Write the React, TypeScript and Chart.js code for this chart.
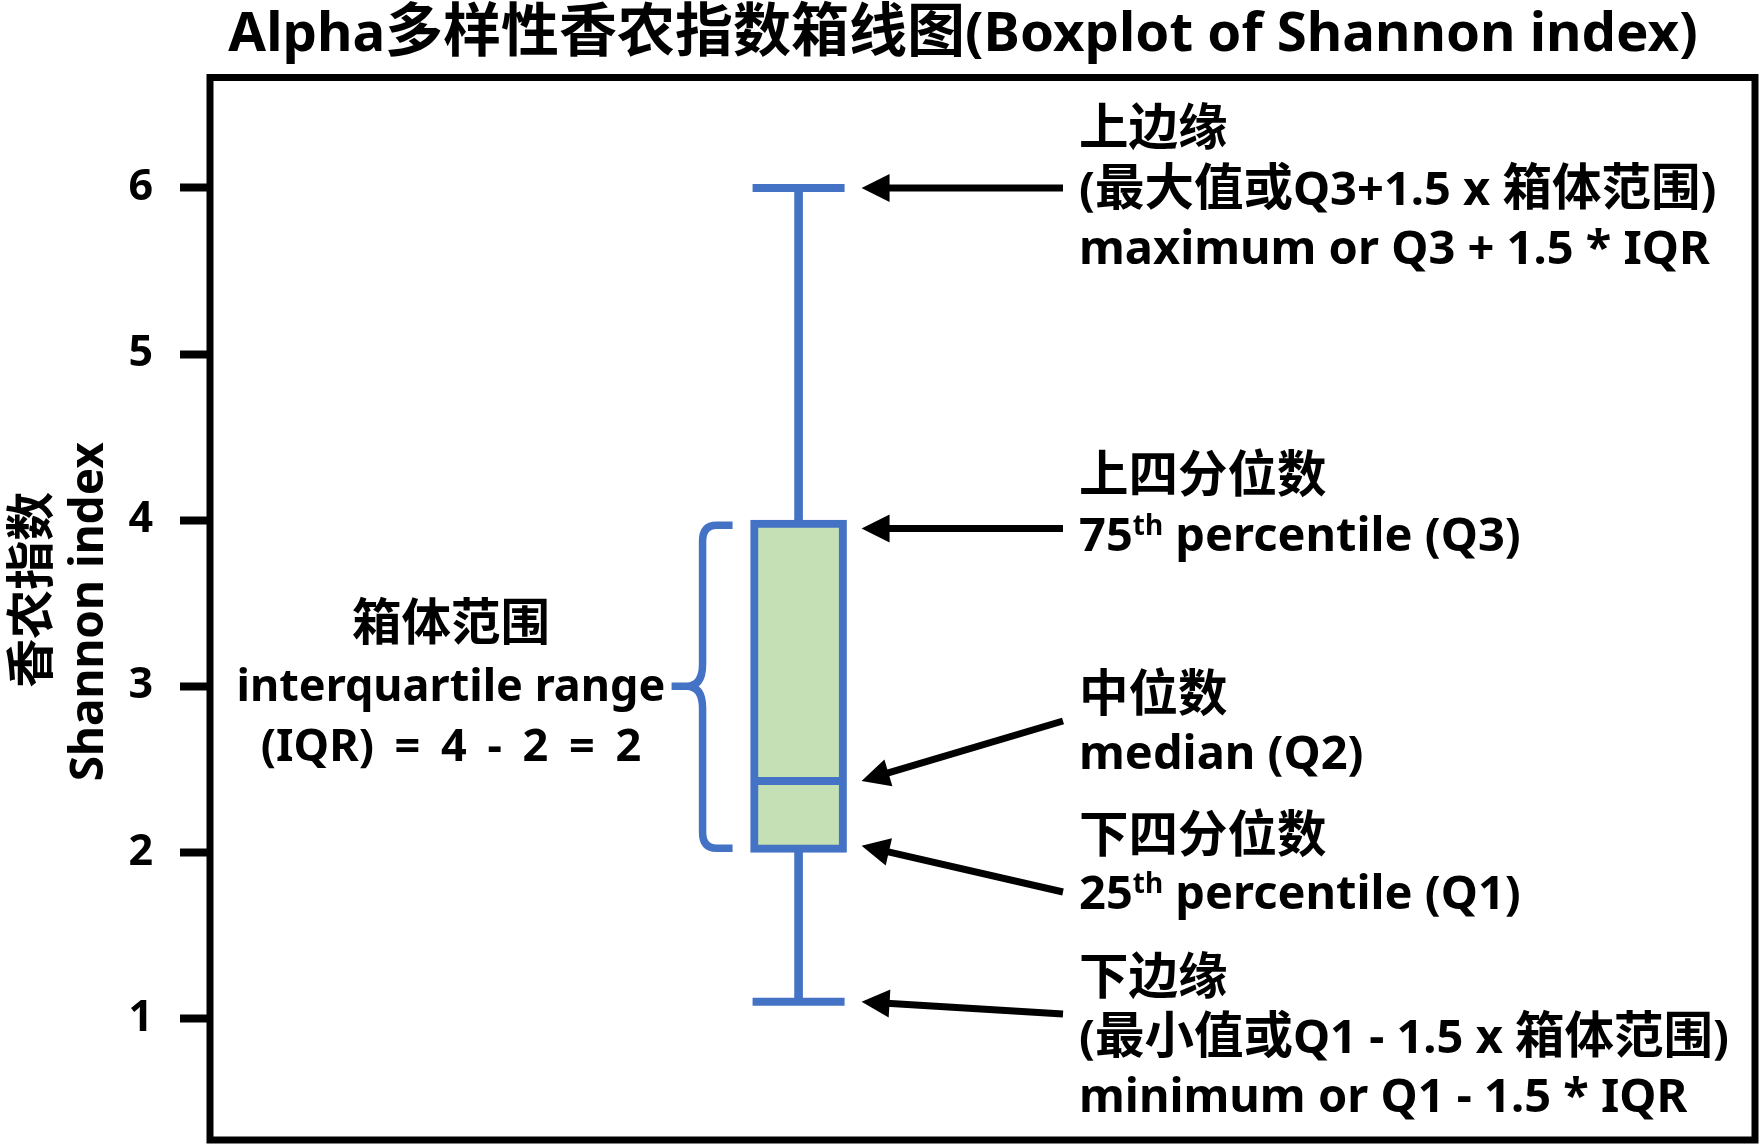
import React, { useEffect, useRef } from 'react';
import { Chart, registerables } from 'chart.js';

Chart.register(...registerables);

// ---------- content / data ----------
const CHART_TITLE = 'Alpha多样性香农指数箱线图(Boxplot of Shannon index)';
const Y_TITLE_CN = '香农指数';
const Y_TITLE_EN = 'Shannon index';

const SAMPLES = ['Shannon index'];
const LOWER_WHISKER = [1.1];
const Q1 = [2];
const MEDIAN = [2.43];
const Q3 = [4];
const UPPER_WHISKER = [6];

const Y_TICKS = [1, 2, 3, 4, 5, 6];
const Y_TICK_LABELS = ['1', '2', '3', '4', '5', '6'];
const Y_MIN = 0.268;
const Y_MAX = 6.665;

const NOTE_UPPER = ['上边缘', '(最大值或Q3+1.5 x 箱体范围)', 'maximum or Q3 + 1.5 * IQR'];
const NOTE_Q3 = ['上四分位数', '75^th percentile (Q3)'];
const NOTE_MEDIAN = ['中位数', 'median (Q2)'];
const NOTE_Q1 = ['下四分位数', '25^th percentile (Q1)'];
const NOTE_LOWER = ['下边缘', '(最小值或Q1 - 1.5 x 箱体范围)', 'minimum or Q1 - 1.5 * IQR'];
const NOTE_IQR = ['箱体范围', 'interquartile range', '(IQR) = 4 - 2 = 2'];

// ---------- styles ----------
const BLUE = '#4472C4';
const GREEN = '#C5E0B4';
const FAMILY = '"Noto Sans", "Noto Sans CJK SC", sans-serif';
const CJK_FAMILY = '"Noto Sans CJK SC", "Noto Sans", sans-serif';
const CJK_RE = /[\u3400-\u9fff]/;

type Run = { text: string; font: string; dy: number };

// split a line into latin / CJK runs (CJK drawn slightly larger), "^xx" = superscript
function buildRuns(text: string, size: number, cjkSize: number): Run[] {
  const runs: Run[] = [];
  const parts = text.split(/(\^\w+)/);
  parts.forEach((part) => {
    if (!part) return;
    if (part.startsWith('^')) {
      runs.push({ text: part.slice(1), font: `bold ${Math.round(size * 0.6)}px ${FAMILY}`, dy: -size * 0.33 });
      return;
    }
    let cur = '';
    let curCjk: boolean | null = null;
    for (const ch of part) {
      const isCjk = CJK_RE.test(ch);
      if (curCjk === null || isCjk === curCjk) {
        cur += ch;
      } else {
        runs.push({ text: cur, font: curCjk ? `bold ${cjkSize}px ${CJK_FAMILY}` : `bold ${size}px ${FAMILY}`, dy: 0 });
        cur = ch;
      }
      curCjk = isCjk;
    }
    if (cur) runs.push({ text: cur, font: curCjk ? `bold ${cjkSize}px ${CJK_FAMILY}` : `bold ${size}px ${FAMILY}`, dy: 0 });
  });
  return runs;
}

function drawMixed(
  ctx: CanvasRenderingContext2D,
  text: string,
  x: number,
  y: number,
  size: number,
  cjkSize: number,
  align: 'left' | 'center' = 'left',
) {
  const runs = buildRuns(text, size, cjkSize);
  ctx.textAlign = 'left';
  ctx.textBaseline = 'alphabetic';
  const widths = runs.map((r) => {
    ctx.font = r.font;
    return ctx.measureText(r.text).width;
  });
  const total = widths.reduce((a, b) => a + b, 0);
  let cx = align === 'center' ? x - total / 2 : x;
  runs.forEach((r, i) => {
    ctx.font = r.font;
    ctx.fillText(r.text, cx, y + r.dy);
    cx += widths[i];
  });
}

function drawArrow(ctx: CanvasRenderingContext2D, x0: number, y0: number, x1: number, y1: number) {
  const dx = x1 - x0;
  const dy = y1 - y0;
  const len = Math.hypot(dx, dy);
  const ux = dx / len;
  const uy = dy / len;
  const head = 28;
  const half = 14;
  ctx.strokeStyle = '#000';
  ctx.fillStyle = '#000';
  ctx.lineWidth = 7;
  ctx.lineCap = 'butt';
  ctx.beginPath();
  ctx.moveTo(x0, y0);
  ctx.lineTo(x1 - ux * head * 0.9, y1 - uy * head * 0.9);
  ctx.stroke();
  const bx = x1 - ux * head;
  const by = y1 - uy * head;
  ctx.beginPath();
  ctx.moveTo(x1, y1);
  ctx.lineTo(bx - uy * half, by + ux * half);
  ctx.lineTo(bx + uy * half, by - ux * half);
  ctx.closePath();
  ctx.fill();
}

const annotationPlugin = {
  id: 'boxplotAnnotations',
  afterDraw(chart: any) {
    const ctx: CanvasRenderingContext2D = chart.ctx;
    const { left, right, top, bottom } = chart.chartArea;
    const y = chart.scales.y;
    const x = chart.scales.x;
    ctx.save();

    // frame
    ctx.strokeStyle = '#000';
    ctx.lineWidth = 7;
    ctx.strokeRect(left, top, right - left, bottom - top);

    // title
    ctx.fillStyle = '#000';
    drawMixed(ctx, CHART_TITLE, 963, 51, 54.6, 58, 'center');

    // y-axis titles (rotated)
    const midY = (top + bottom) / 2;
    ctx.save();
    ctx.translate(48, midY - 19);
    ctx.rotate(-Math.PI / 2);
    ctx.font = `bold 49px ${CJK_FAMILY}`;
    ctx.textAlign = 'center';
    ctx.fillText(Y_TITLE_CN, 0, 0);
    ctx.restore();
    ctx.save();
    ctx.translate(103, midY + 3);
    ctx.rotate(-Math.PI / 2);
    ctx.font = `bold 46px ${FAMILY}`;
    ctx.textAlign = 'center';
    ctx.fillText(Y_TITLE_EN, 0, 0);
    ctx.restore();

    // brace beside the box (spans Q1..Q3)
    const yTop = y.getPixelForValue(Q3[0]) + 5;
    const yBot = y.getPixelForValue(Q1[0]) - 4;
    const yMid = (y.getPixelForValue(Q3[0]) + y.getPixelForValue(Q1[0])) / 2;
    const boxX = x.getPixelForValue(0);
    const spine = boxX - 96;
    const endX = boxX - 66;
    const tipX = boxX - 127;
    ctx.strokeStyle = BLUE;
    ctx.lineWidth = 7.5;
    ctx.lineJoin = 'round';
    ctx.beginPath();
    ctx.moveTo(endX, yTop);
    ctx.lineTo(spine + 14, yTop);
    ctx.quadraticCurveTo(spine, yTop, spine, yTop + 16);
    ctx.lineTo(spine, yMid - 22);
    ctx.quadraticCurveTo(spine, yMid, spine - 16, yMid);
    ctx.lineTo(tipX, yMid);
    ctx.moveTo(spine - 16, yMid);
    ctx.quadraticCurveTo(spine, yMid, spine, yMid + 22);
    ctx.lineTo(spine, yBot - 16);
    ctx.quadraticCurveTo(spine, yBot, spine + 14, yBot);
    ctx.lineTo(endX, yBot);
    ctx.stroke();

    // arrows: from note text to the statistic
    const tipAt = boxX + 63;
    const startX = 1063;
    const arrows: [number, number][] = [
      [y.getPixelForValue(UPPER_WHISKER[0]), y.getPixelForValue(UPPER_WHISKER[0])],
      [y.getPixelForValue(Q3[0] - 0.05), y.getPixelForValue(Q3[0] - 0.05)],
      [721, y.getPixelForValue(MEDIAN[0])],
      [892, y.getPixelForValue(Q1[0] + 0.04)],
      [1014, y.getPixelForValue(LOWER_WHISKER[0])],
    ];
    arrows.forEach(([sy, ty]) => drawArrow(ctx, startX, sy, tipAt, ty));

    // notes on the right
    ctx.fillStyle = '#000';
    const tx = 1079;
    const groups: [string[], number[]][] = [
      [NOTE_UPPER, [145, 205, 264]],
      [NOTE_Q3, [492, 551]],
      [NOTE_MEDIAN, [711, 769]],
      [NOTE_Q1, [852, 909]],
      [NOTE_LOWER, [994, 1053, 1112]],
    ];
    groups.forEach(([lines, ys]) => {
      lines.forEach((ln, i) => drawMixed(ctx, ln, tx, ys[i], 47, 49.5, 'left'));
    });

    // IQR note on the left
    const iqrY = [640, 701, 761];
    NOTE_IQR.forEach((ln, i) => {
      (ctx as any).wordSpacing = i === 2 ? '9px' : '0px';
      drawMixed(ctx, ln, 451, iqrY[i], 45, 49.5, 'center');
    });
    (ctx as any).wordSpacing = '0px';

    ctx.restore();
  },
};

export default function App() {
  const ref = useRef<HTMLCanvasElement>(null);

  useEffect(() => {
    const canvas = ref.current;
    if (!canvas) return;
    const chart = new Chart(canvas, {
      type: 'bar',
      data: {
        labels: SAMPLES,
        datasets: [
          {
            type: 'scatter',
            label: 'whisker caps',
            data: SAMPLES.flatMap((_, i) => [
              { x: i, y: LOWER_WHISKER[i] },
              { x: i, y: UPPER_WHISKER[i] },
            ]),
            pointStyle: 'line',
            pointRadius: 46,
            pointHoverRadius: 46,
            borderWidth: 8,
            borderColor: BLUE,
            order: 0,
          } as any,
          {
            type: 'scatter',
            label: 'median',
            data: MEDIAN.map((v, i) => ({ x: i, y: v })),
            pointStyle: 'line',
            pointRadius: 45,
            pointHoverRadius: 45,
            borderWidth: 8,
            borderColor: BLUE,
            order: 0,
          } as any,
          {
            type: 'bar',
            label: 'box',
            data: Q1.map((v, i) => ({ x: i, y: [v, Q3[i]] })),
            backgroundColor: GREEN,
            borderColor: BLUE,
            borderWidth: 8,
            borderSkipped: false,
            barThickness: 96,
            grouped: false,
            order: 1,
          } as any,
          {
            type: 'bar',
            label: 'whiskers',
            data: SAMPLES.flatMap((_, i) => [
              { x: i, y: [LOWER_WHISKER[i], Q1[i]] },
              { x: i, y: [Q3[i], UPPER_WHISKER[i]] },
            ]),
            backgroundColor: BLUE,
            borderWidth: 0,
            barThickness: 8,
            grouped: false,
            order: 2,
          } as any,
        ],
      },
      options: {
        animation: false,
        responsive: false,
        devicePixelRatio: 1,
        events: [],
        layout: { autoPadding: false, padding: { left: 0, right: 6, top: 77.5, bottom: 6 } },
        plugins: {
          legend: { display: false },
          title: { display: false },
          tooltip: { enabled: false },
        },
        scales: {
          x: { type: 'linear', min: -0.8, max: 1.3, offset: false, display: false },
          y: {
            type: 'linear',
            min: Y_MIN,
            max: Y_MAX,
            afterBuildTicks: (s: any) => {
              s.ticks = Y_TICKS.map((v) => ({ value: v }));
            },
            afterFit: (s: any) => {
              s.width = 210;
              s.paddingTop = 0;
              s.paddingBottom = 0;
            },
            grid: {
              display: true,
              drawOnChartArea: false,
              drawTicks: true,
              tickLength: 30,
              tickWidth: 8,
              tickColor: '#000',
            },
            border: { display: false },
            ticks: {
              padding: 27,
              color: '#000',
              font: { family: FAMILY, size: 43, weight: 'bold' },
              callback: (v: any) => {
                const idx = Y_TICKS.indexOf(Number(v));
                return idx >= 0 ? Y_TICK_LABELS[idx] : '';
              },
            },
          },
        },
      } as any,
      plugins: [annotationPlugin],
    });
    return () => chart.destroy();
  }, []);

  return (
    <div style={{ position: 'fixed', left: 0, top: 0, width: 1761, height: 1146, background: '#fff' }}>
      <canvas ref={ref} width={1761} height={1146} style={{ display: 'block' }} />
    </div>
  );
}
